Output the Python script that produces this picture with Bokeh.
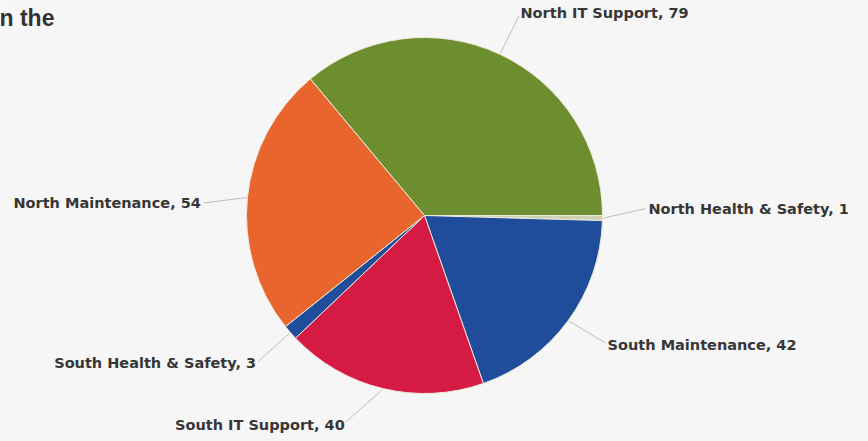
import math
from bokeh.plotting import figure
from bokeh.models import Range1d, ColumnDataSource
from bokeh.core.properties import value
from bokeh.embed import file_html
from bokeh.resources import INLINE

# ---- data (clockwise from 3 o'clock) ----
categories = ["North Health & Safety", "South Maintenance", "South IT Support",
              "South Health & Safety", "North Maintenance", "North IT Support"]
counts = [1, 42, 40, 3, 54, 79]
colors = ["#cdd1b2", "#1f4d9b", "#d51a44", "#1f4d9b", "#e8652e", "#6c8e2f"]

# label placement nudges (degrees, layout only)
label_nudge = [2.6, 1.0, -7.3, 0.2, 2.5, -0.3]

W, H = 868, 441
CX, CY, R = 424, H - 215, 178
R_LINE, R_LABEL = 221, 224

total = sum(counts)
starts, ends, mids = [], [], []
cum = 0.0
for c in counts:
    a0 = -cum / total * 2 * math.pi
    cum += c
    a1 = -cum / total * 2 * math.pi
    starts.append(a1)
    ends.append(a0)
    mids.append((a0 + a1) / 2)

p = figure(width=W, height=H, output_backend="svg", toolbar_location=None,
           x_range=Range1d(0, W), y_range=Range1d(0, H), min_border=0)
p.axis.visible = False
p.grid.visible = False
p.outline_line_color = None
p.background_fill_color = "#f6f6f6"
p.border_fill_color = "#f6f6f6"

src = ColumnDataSource(dict(start=starts, end=ends, color=colors))
p.wedge(x=CX, y=CY, radius=R, start_angle="start", end_angle="end",
        direction="anticlock", fill_color="color", line_color="#ecebdc",
        line_width=1, source=src)

# leader lines and labels
lx0, ly0, lx1, ly1, tx, ty, txt, align = [], [], [], [], [], [], [], []
for cat, c, m, nd in zip(categories, counts, mids, label_nudge):
    cs, sn = math.cos(m), math.sin(m)
    ml = m + math.radians(nd)
    cl, sl = math.cos(ml), math.sin(ml)
    lx0.append(CX + (R + 1) * cs); ly0.append(CY + (R + 1) * sn)
    lx1.append(CX + R_LINE * cl); ly1.append(CY + R_LINE * sl)
    tx.append(CX + R_LABEL * cl); ty.append(CY + R_LABEL * sl)
    txt.append(f"{cat}, {c}")
    align.append("left" if cl >= 0 else "right")

p.segment(x0=lx0, y0=ly0, x1=lx1, y1=ly1, line_color="#bdbdbd", line_width=1)
lab = ColumnDataSource(dict(x=tx, y=ty, text=txt, align=align))
p.text(x="x", y="y", text="text", text_align="align", text_baseline="middle",
       text_font=value("DejaVu Sans"), text_font_style="bold",
       text_font_size="14.5px", text_color="#363636", source=lab)

# clipped title fragment
p.text(x=[-1], y=[H - 17], text=["n the"], text_align="left", text_baseline="middle",
       text_font=value("Liberation Sans"), text_font_style="bold",
       text_font_size="23px", text_color="#333333")

open("out.html", "w").write(file_html(p, INLINE))
